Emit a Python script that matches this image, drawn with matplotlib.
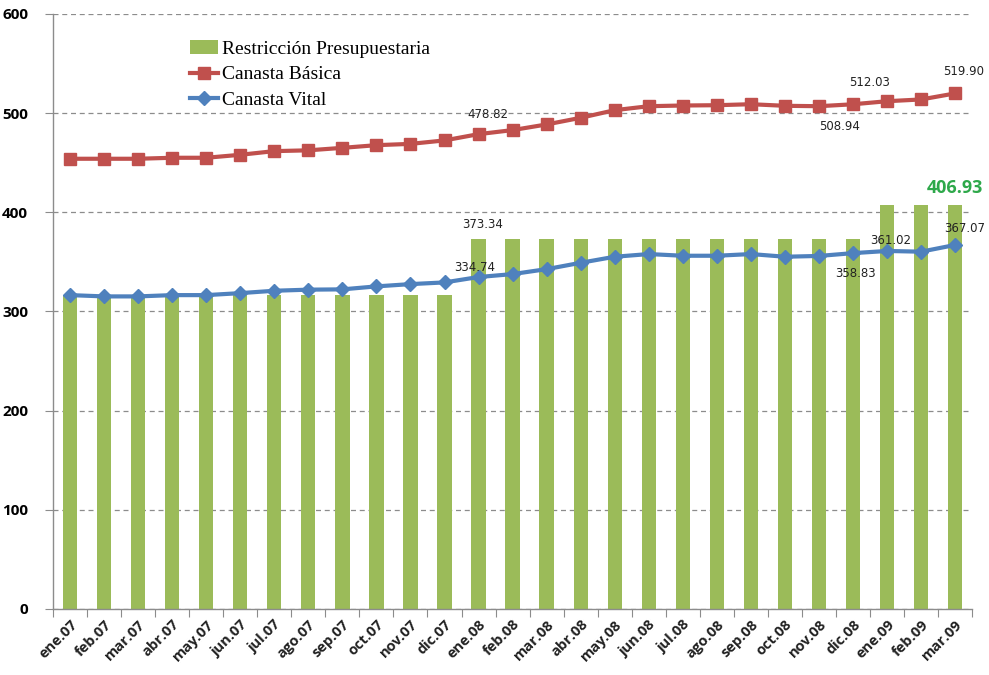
import matplotlib

matplotlib.use("Agg")
import matplotlib.pyplot as plt  # noqa: E402
import numpy as np  # noqa: E402

# data
months = [
    "ene.07", "feb.07", "mar.07", "abr.07", "may.07", "jun.07", "jul.07",
    "ago.07", "sep.07", "oct.07", "nov.07", "dic.07",
    "ene.08", "feb.08", "mar.08", "abr.08", "may.08", "jun.08", "jul.08",
    "ago.08", "sep.08", "oct.08", "nov.08", "dic.08",
    "ene.09", "feb.09", "mar.09",
]
restriccion = [316.5] * 12 + [373.34] * 12 + [406.93] * 3
canasta_basica = [
    454.0, 454.0, 454.0, 455.0, 455.0, 458.0, 461.7, 462.5, 465.0, 467.7,
    469.0, 472.5, 478.82, 482.9, 488.6, 495.3, 503.0, 507.0, 507.7, 508.0,
    509.0, 507.4, 507.0, 508.94, 512.03, 513.8, 519.90,
]
canasta_vital = [
    316.5, 315.2, 315.2, 316.5, 316.5, 318.5, 320.9, 322.0, 322.3, 325.3,
    327.6, 329.3, 334.74, 337.7, 342.7, 349.1, 355.2, 357.9, 356.2, 356.2,
    357.9, 355.2, 356.0, 358.83, 361.02, 360.3, 367.07,
]

GREEN = "#9BBB59"
RED = "#C0504D"
BLUE = "#4F81BD"

x = np.arange(len(months))

fig = plt.figure(figsize=(9.89, 6.75), dpi=100)
ax = fig.add_axes([0.0536, 0.0978, 0.9294, 0.8815])

ax.bar(x, restriccion, width=0.42, color=GREEN, label="Restricción Presupuestaria", zorder=2)
ax.plot(x, canasta_basica, color=RED, lw=3, marker="s", ms=8.6, label="Canasta Básica", zorder=3)
ax.plot(x, canasta_vital, color=BLUE, lw=3, marker="D", ms=6.8, label="Canasta Vital", zorder=3)

ax.set_xlim(-0.5, len(months) - 0.5)
ax.set_ylim(0, 600)
ax.set_yticks(range(0, 601, 100))
ax.yaxis.grid(True, linestyle=(0, (4, 3)), color="#8c8c8c", lw=0.9, zorder=0)
ax.set_axisbelow(True)

# category ticks between bars, labels centred on bars
ax.set_xticks(np.arange(-0.5, len(months), 1.0))
ax.set_xticklabels([])
ax.set_xticks(x, minor=True)
ax.set_xticklabels(months, minor=True, rotation=45, ha="right", rotation_mode="anchor",
                   fontsize=10.5, fontweight="bold", family="Open Sans", color="#222222")
ax.tick_params(axis="x", which="minor", length=0, pad=6)
ax.tick_params(axis="x", which="major", length=6, color="#8c8c8c")
ax.tick_params(axis="y", length=6, color="#8c8c8c", pad=12)
for lab in ax.get_yticklabels():
    lab.set_fontweight("bold")
    lab.set_fontsize(11)
    lab.set_family("Open Sans")

for side in ("top", "right"):
    ax.spines[side].set_visible(False)
for side in ("left", "bottom"):
    ax.spines[side].set_color("#8c8c8c")
    ax.spines[side].set_linewidth(1.0)


def note(i, series, text, dx, dy, **kw):
    return ax.annotate(text, (x[i], series[i]), xytext=(dx, dy), textcoords="offset pixels",
                       ha="center", va="center", fontsize=8.5, color="#222222", zorder=5, **kw)


note(12, canasta_basica, "478.82", 9, 20)
note(23, canasta_basica, "508.94", -13, -22)
note(24, canasta_basica, "512.03", -18, 19)
note(26, canasta_basica, "519.90", 8, 22)
note(12, restriccion, "373.34", 4, 14)
note(12, canasta_vital, "334.74", -4, 10)
note(23, canasta_vital, "358.83", 2, -20)
note(24, canasta_vital, "361.02", 4, 10)
note(26, canasta_vital, "367.07", 10, 16)
big = note(26, restriccion, "406.93", 0, 17, fontweight="bold", family="Open Sans")
big.set_fontsize(13)
big.set_color("#2EA84A")

handles, labels = ax.get_legend_handles_labels()
order = [2, 0, 1]
ax.legend([handles[k] for k in order], [labels[k] for k in order],
          loc="upper left", bbox_to_anchor=(0.13, 0.985), frameon=False,
          prop={"family": "Liberation Serif", "size": 14},
          handlelength=1.45, handletextpad=0.2, labelspacing=0.4)

fig.savefig("out.png", dpi=100)
